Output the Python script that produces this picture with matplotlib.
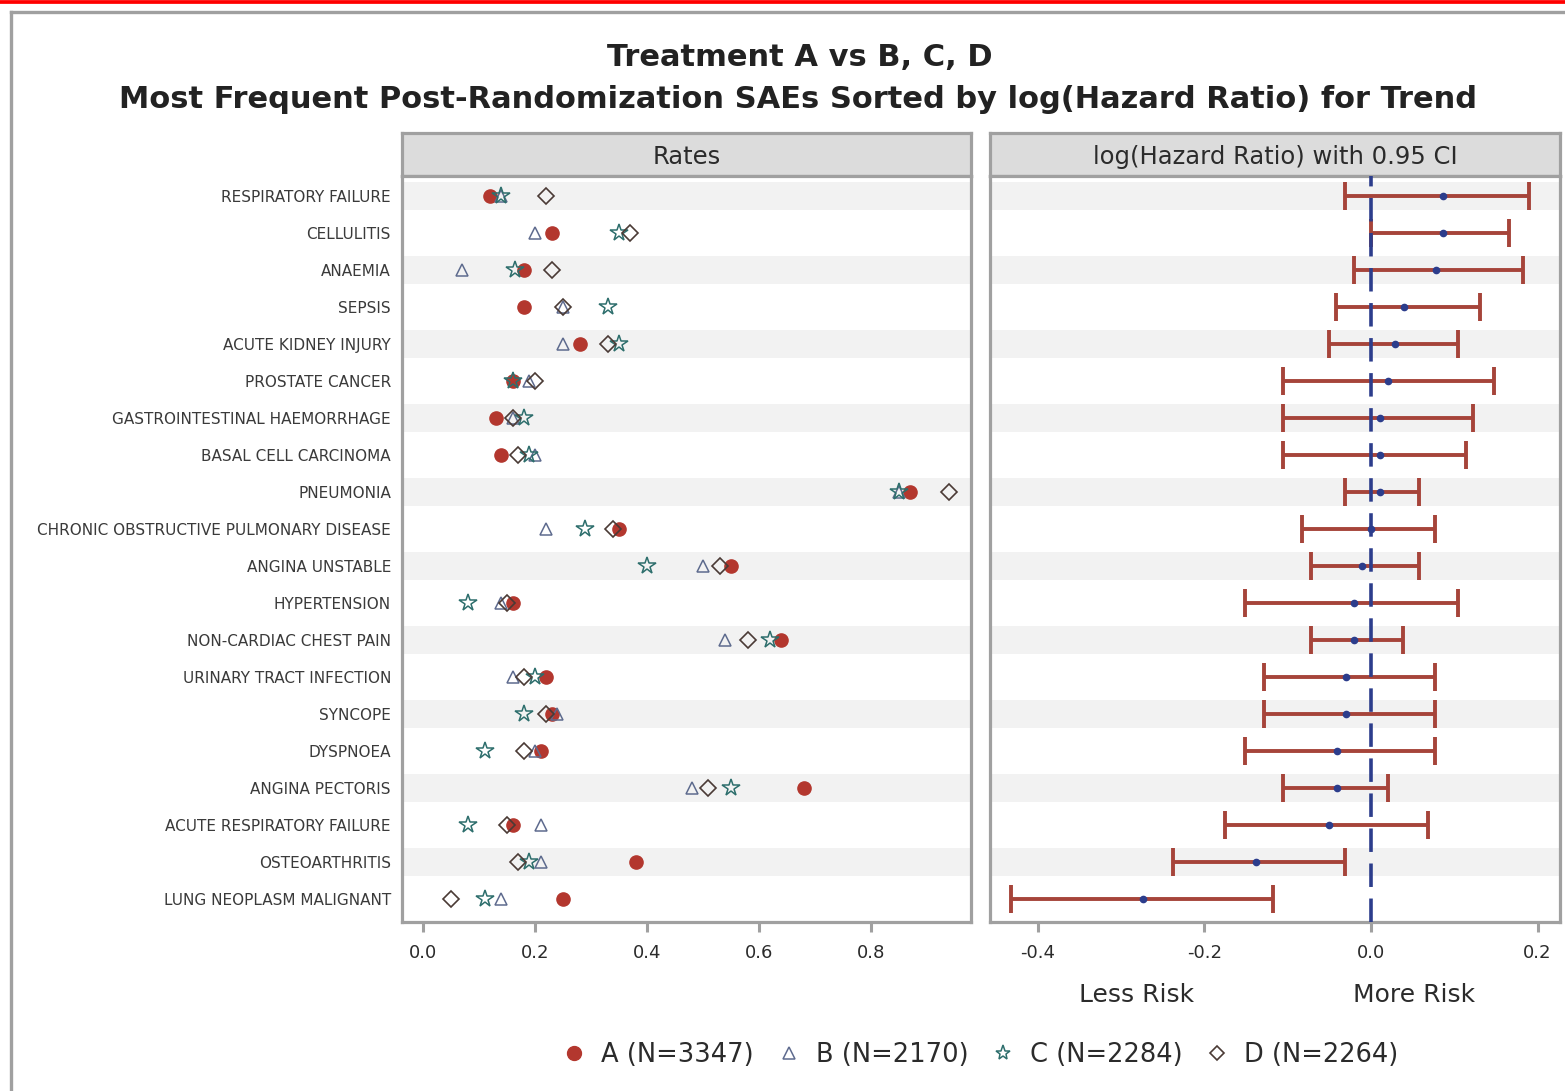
import matplotlib
matplotlib.use("Agg")
import matplotlib.pyplot as plt
import numpy as np
from matplotlib.lines import Line2D

# adverse events, top to bottom
EVENTS = [
    "RESPIRATORY FAILURE",
    "CELLULITIS",
    "ANAEMIA",
    "SEPSIS",
    "ACUTE KIDNEY INJURY",
    "PROSTATE CANCER",
    "GASTROINTESTINAL HAEMORRHAGE",
    "BASAL CELL CARCINOMA",
    "PNEUMONIA",
    "CHRONIC OBSTRUCTIVE PULMONARY DISEASE",
    "ANGINA UNSTABLE",
    "HYPERTENSION",
    "NON-CARDIAC CHEST PAIN",
    "URINARY TRACT INFECTION",
    "SYNCOPE",
    "DYSPNOEA",
    "ANGINA PECTORIS",
    "ACUTE RESPIRATORY FAILURE",
    "OSTEOARTHRITIS",
    "LUNG NEOPLASM MALIGNANT",
]

# event rates per treatment arm
RATE_A = [0.12, 0.23, 0.18, 0.18, 0.28, 0.16, 0.13, 0.14, 0.87, 0.35,
          0.55, 0.16, 0.64, 0.22, 0.23, 0.21, 0.68, 0.16, 0.38, 0.25]
RATE_B = [0.14, 0.20, 0.07, 0.25, 0.25, 0.19, 0.16, 0.20, 0.85, 0.22,
          0.50, 0.14, 0.54, 0.16, 0.24, 0.20, 0.48, 0.21, 0.21, 0.14]
RATE_C = [0.14, 0.35, 0.165, 0.33, 0.35, 0.16, 0.18, 0.19, 0.85, 0.29,
          0.40, 0.08, 0.62, 0.20, 0.18, 0.11, 0.55, 0.08, 0.19, 0.11]
RATE_D = [0.22, 0.37, 0.23, 0.25, 0.33, 0.20, 0.16, 0.17, 0.94, 0.34,
          0.53, 0.15, 0.58, 0.18, 0.22, 0.18, 0.51, 0.15, 0.17, 0.05]

ARM_LABELS = ["A (N=3347)", "B (N=2170)", "C (N=2284)", "D (N=2264)"]

# log(hazard ratio) for trend with 95% CI
LOG_HR = [0.087, 0.087, 0.078, 0.040, 0.029, 0.020, 0.011, 0.011, 0.011, 0.000,
          -0.011, -0.020, -0.020, -0.030, -0.030, -0.041, -0.041, -0.050, -0.138, -0.274]
CI_LOW = [-0.031, 0.000, -0.020, -0.042, -0.050, -0.105, -0.105, -0.105, -0.031, -0.083,
          -0.072, -0.151, -0.072, -0.128, -0.128, -0.151, -0.105, -0.175, -0.237, -0.432]
CI_HIGH = [0.190, 0.166, 0.182, 0.131, 0.104, 0.148, 0.123, 0.114, 0.058, 0.077,
           0.058, 0.104, 0.039, 0.077, 0.077, 0.077, 0.020, 0.069, -0.031, -0.118]

W, H = 1565, 1091
FRAME = "#a0a0a0"
HEADER_FILL = "#dcdcdc"
BAND = "#f2f2f2"
TEXT = "#2b2b2b"
BAR_RED = "#a6443a"
NAVY = "#2c3d8c"

ARM_STYLE = [
    dict(marker="o", ms=9.5, mfc="#b3372e", mec="#b3372e", mew=1.0),
    dict(marker="^", ms=8.5, mfc="none", mec="#5e6b8e", mew=1.1),
    dict(marker="*", ms=13, mfc="none", mec="#2d6e6c", mew=1.1),
    dict(marker="D", ms=8.0, mfc="none", mec="#4a3a35", mew=1.2),
]


def px_rect(x0, y0, x1, y1):
    return [x0 / W, 1 - y1 / H, (x1 - x0) / W, (y1 - y0) / H]


def frame_axes(ax):
    for sp in ax.spines.values():
        sp.set_color(FRAME)
        sp.set_linewidth(2.3)


def header(x0, x1, label):
    hax = fig.add_axes(px_rect(x0, 133, x1, 176))
    hax.set_facecolor(HEADER_FILL)
    hax.set_xticks([])
    hax.set_yticks([])
    frame_axes(hax)
    hax.text(0.5, 0.45, label, ha="center", va="center", fontsize=17.5,
             color=TEXT, transform=hax.transAxes)


def panel(x0, x1):
    ax = fig.add_axes(px_rect(x0, 176, x1, 922))
    frame_axes(ax)
    ax.set_ylim(19.62, -0.54)
    for i in range(0, len(EVENTS), 2):
        ax.axhspan(i - 0.39, i + 0.39, color=BAND, lw=0, zorder=0)
    ax.tick_params(axis="x", length=7, width=2.2, color=FRAME, labelsize=13,
                   labelcolor=TEXT, pad=9)
    return ax


fig = plt.figure(figsize=(W / 100, H / 100), dpi=100)

# page decoration
fig.add_artist(Line2D([0, 1], [1 - 1.8 / H] * 2, color="#ff0000", lw=2.7))
fig.add_artist(Line2D([11 / W, 1], [1 - 12.3 / H] * 2, color=FRAME, lw=2.4))
fig.add_artist(Line2D([11 / W] * 2, [0, 1 - 12.3 / H], color=FRAME, lw=2.4))

fig.text(800 / W, 1 - 57 / H, "Treatment A vs B, C, D", ha="center", va="center",
         fontsize=22, fontweight="bold", color="#222222")
fig.text(798 / W, 1 - 99 / H,
         "Most Frequent Post-Randomization SAEs Sorted by log(Hazard Ratio) for Trend",
         ha="center", va="center", fontsize=22, fontweight="bold", color="#222222")

y = np.arange(len(EVENTS))

# rates panel
header(402, 971, "Rates")
ax1 = panel(402, 971)
ax1.set_xlim(-0.0375, 0.979)
ax1.set_xticks([0.0, 0.2, 0.4, 0.6, 0.8], ["0.0", "0.2", "0.4", "0.6", "0.8"])
ax1.set_yticks(y, EVENTS)
ax1.tick_params(axis="y", length=0, pad=8, labelsize=11, labelcolor="#3a3a3a")
for rates, style in zip([RATE_A, RATE_B, RATE_C, RATE_D], ARM_STYLE):
    ax1.plot(rates, y, ls="none", zorder=3, **style)

# hazard ratio panel
header(990, 1560, "log(Hazard Ratio) with 0.95 CI")
ax2 = panel(990, 1560)
ax2.set_xlim(-0.457, 0.227)
ax2.set_xticks([-0.4, -0.2, 0.0, 0.2], ["-0.4", "-0.2", "0.0", "0.2"])
ax2.set_yticks([])
est = np.array(LOG_HR)
err = [est - np.array(CI_LOW), np.array(CI_HIGH) - est]
ax2.errorbar(est, y, xerr=err, fmt="none", ecolor=BAR_RED, elinewidth=2.8,
             capsize=10, capthick=2.8, zorder=2)
ax2.plot(est, y, ls="none", marker="o", ms=4.5, color=NAVY, zorder=3)
ax2.axvline(0, color=NAVY, lw=2.6, dashes=(6.5, 3.2), zorder=4)

fig.text(1137 / W, 1 - 995 / H, "Less Risk", ha="center", va="center",
         fontsize=18, color=TEXT)
fig.text(1414 / W, 1 - 995 / H, "More Risk", ha="center", va="center",
         fontsize=18, color=TEXT)

# legend
handles = [
    Line2D([], [], ls="none", marker="o", ms=10, mfc="#b3372e", mec="#b3372e"),
    Line2D([], [], ls="none", marker="^", ms=8, mfc="none", mec="#5e6b8e", mew=1.1),
    Line2D([], [], ls="none", marker="*", ms=11, mfc="none", mec="#2d6e6c", mew=1.1),
    Line2D([], [], ls="none", marker="D", ms=7, mfc="none", mec="#4a3a35", mew=1.2),
]
fig.legend(handles, ARM_LABELS, loc="center", bbox_to_anchor=(980 / W, 1 - 1055 / H),
           ncol=4, frameon=False, fontsize=18.5, handlelength=1.0, handletextpad=0.55,
           columnspacing=0.85, labelcolor=TEXT)

fig.savefig("out.png", dpi=100, facecolor="white")
